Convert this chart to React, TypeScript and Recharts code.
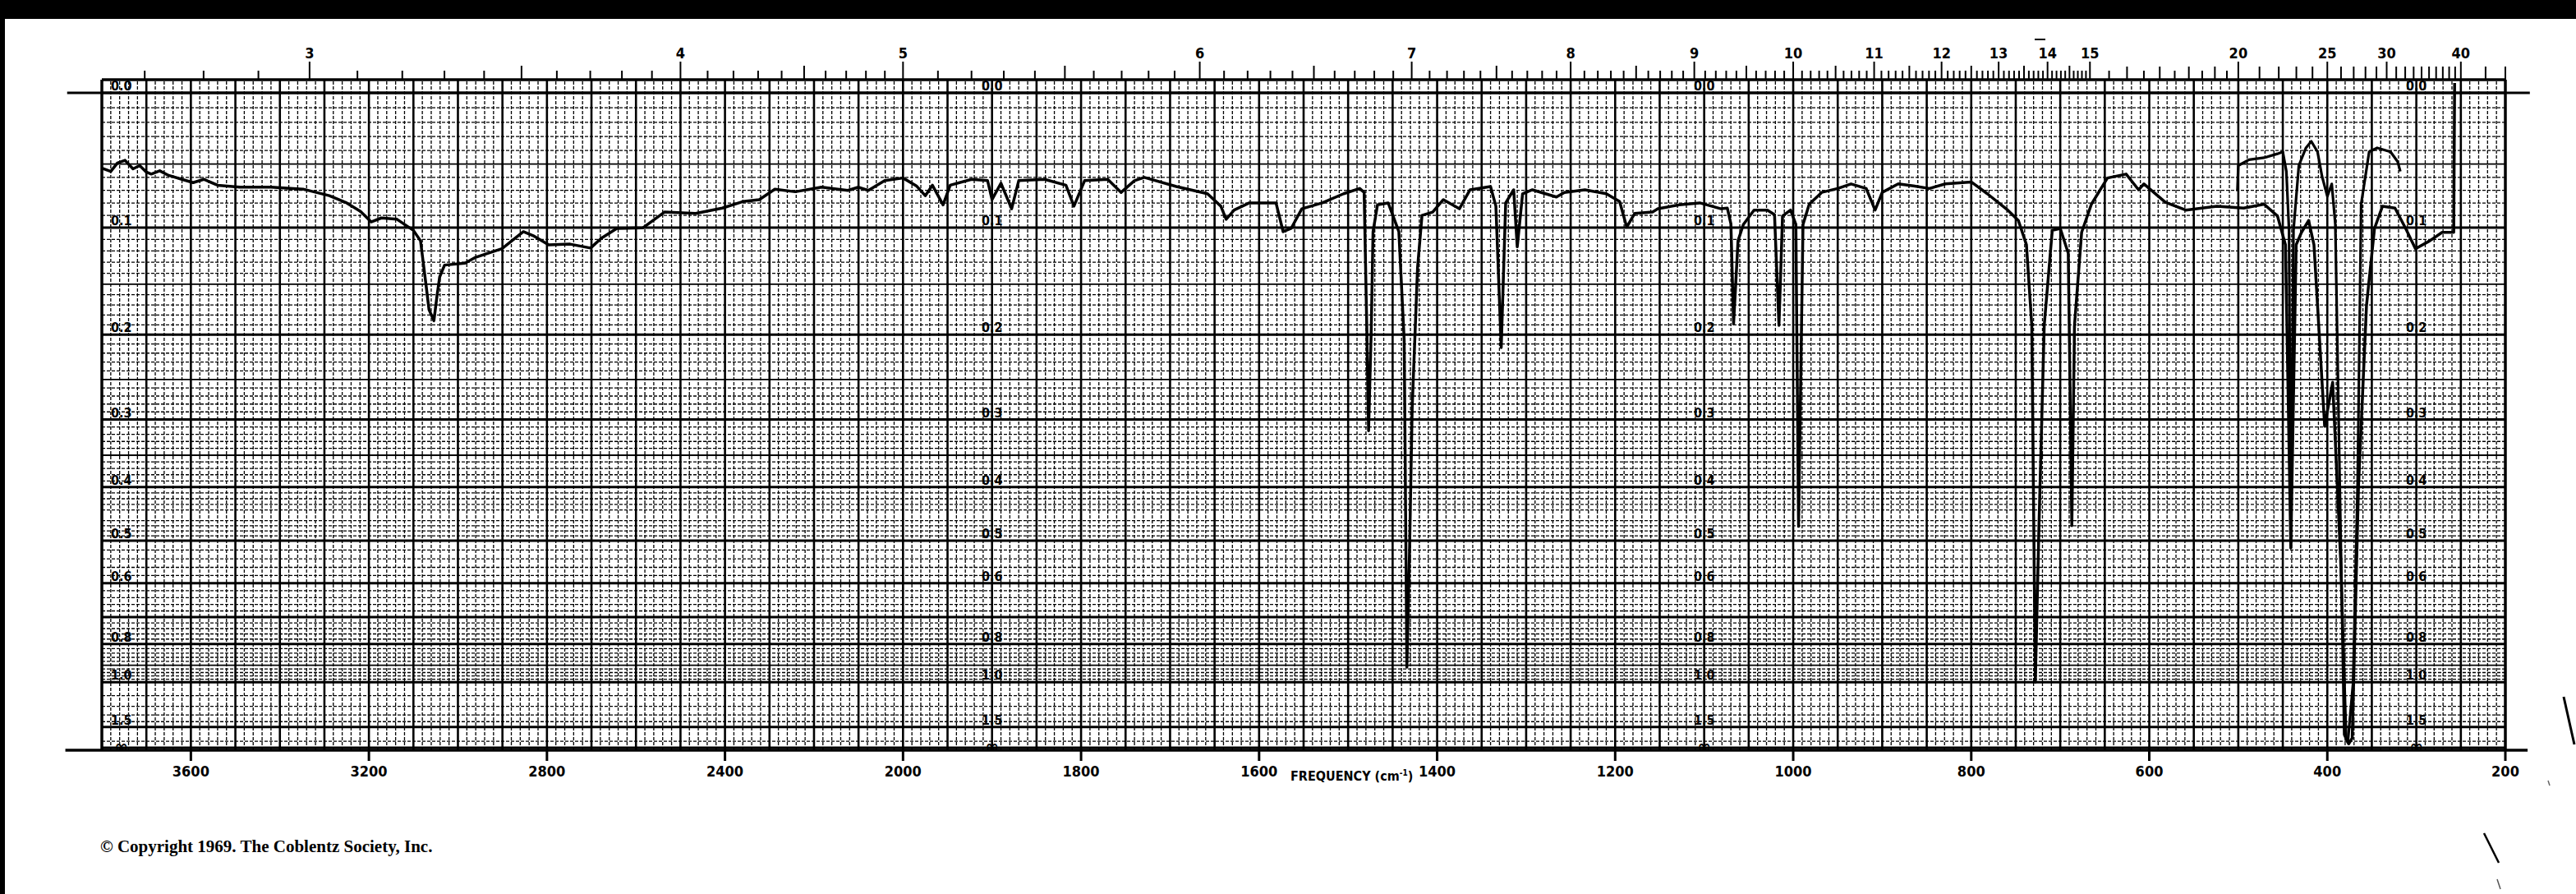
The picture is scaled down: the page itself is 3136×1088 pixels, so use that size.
import React from 'react';
import { LineChart, Line, XAxis, YAxis, ReferenceLine } from 'recharts';

// main recorded trace: wavenumber (cm-1) and transmittance (fraction)
const wavenumbers = [
  3800, 3780, 3765, 3748, 3730, 3715, 3700, 3689, 3670, 3650, 3620, 3595, 3571, 3540, 3490, 3420, 3348, 3289,
  3250, 3219, 3195, 3172, 3137, 3100, 3084, 3071, 3065, 3054, 3047, 3041, 3030, 2984, 2960, 2901, 2853, 2831,
  2796, 2748, 2702, 2678, 2643, 2584, 2536, 2466, 2406, 2360, 2323, 2288, 2242, 2183, 2124, 2100, 2078, 2041,
  2000, 1985, 1975, 1967, 1955, 1947, 1923, 1905, 1900, 1890, 1878, 1870, 1841, 1817, 1808, 1796, 1770, 1755,
  1740, 1729, 1693, 1658, 1643, 1637, 1628, 1611, 1581, 1573, 1564, 1552, 1529, 1505, 1487, 1482, 1479, 1477,
  1474, 1472, 1467, 1455, 1443, 1437, 1434, 1431, 1428, 1422, 1417, 1405, 1393, 1375, 1363, 1340, 1334, 1328,
  1323, 1314, 1310, 1304, 1293, 1266, 1257, 1234, 1210, 1195, 1187, 1178, 1158, 1152, 1128, 1105, 1081, 1074,
  1070, 1067, 1062, 1056, 1044, 1029, 1021, 1016, 1012, 1003, 997, 994, 989, 982, 968, 950, 935, 918,
  908, 900, 882, 865, 847, 829, 800, 782, 759, 747, 738, 732, 728, 724, 718, 709, 700, 691,
  687, 684, 676, 665, 647, 626, 612, 606, 582, 559, 524, 494, 471, 456, 447, 441, 435, 429,
  421, 415, 403, 394, 385, 379, 376, 372, 365, 356, 347, 338, 324, 312, 301, 285, 271, 258, 257,
];
const transmittance = [
  0.885, 0.88, 0.893, 0.897, 0.884, 0.889, 0.879, 0.876, 0.881, 0.874, 0.868, 0.863, 0.868, 0.859, 0.856, 0.856, 0.853, 0.843,
  0.832, 0.819, 0.803, 0.809, 0.807, 0.79, 0.774, 0.703, 0.669, 0.652, 0.69, 0.719, 0.737, 0.74, 0.749, 0.762, 0.788, 0.782,
  0.768, 0.769, 0.763, 0.778, 0.793, 0.794, 0.818, 0.816, 0.824, 0.834, 0.837, 0.853, 0.849, 0.856, 0.851, 0.856, 0.851, 0.866,
  0.87, 0.858, 0.843, 0.859, 0.829, 0.859, 0.868, 0.866, 0.837, 0.862, 0.823, 0.866, 0.868, 0.859, 0.827, 0.866, 0.868, 0.848,
  0.866, 0.871, 0.857, 0.846, 0.827, 0.807, 0.821, 0.832, 0.832, 0.788, 0.793, 0.823, 0.832, 0.846, 0.854, 0.848, 0.64, 0.484,
  0.64, 0.788, 0.829, 0.832, 0.788, 0.622, 0.123, 0.3, 0.52, 0.733, 0.813, 0.818, 0.837, 0.823, 0.852, 0.857, 0.827, 0.611,
  0.832, 0.852, 0.765, 0.846, 0.852, 0.841, 0.848, 0.852, 0.846, 0.834, 0.795, 0.816, 0.818, 0.823, 0.829, 0.832, 0.823, 0.824,
  0.8, 0.647, 0.774, 0.799, 0.821, 0.821, 0.814, 0.645, 0.812, 0.821, 0.799, 0.338, 0.799, 0.83, 0.848, 0.854, 0.861, 0.854,
  0.821, 0.848, 0.861, 0.858, 0.854, 0.861, 0.864, 0.846, 0.821, 0.805, 0.768, 0.645, 0.1, 0.335, 0.645, 0.79, 0.793, 0.755,
  0.339, 0.645, 0.787, 0.83, 0.87, 0.876, 0.852, 0.861, 0.833, 0.821, 0.827, 0.824, 0.83, 0.812, 0.768, 0.305, 0.768, 0.787,
  0.805, 0.768, 0.491, 0.558, 0.286, 0.015, 0.006, 0.015, 0.398, 0.675, 0.793, 0.827, 0.824, 0.793, 0.762, 0.774, 0.787, 0.787, 1.015,
];

// second (upper) trace recorded over the far-IR end
const overlayWavenumbers = [
  501, 500, 488, 471, 456, 450, 446, 443, 441, 438, 432, 424, 418, 411, 406, 400, 395, 391, 386, 381, 377,
  371, 366, 362, 353, 344, 329, 321, 318,
];
const overlayTransmittance = [
  0.85, 0.889, 0.898, 0.901, 0.907, 0.91, 0.88, 0.79, 0.31, 0.79, 0.889, 0.916, 0.926, 0.91, 0.873, 0.842, 0.861, 0.799, 0.4, 0.02, 0.008,
  0.1, 0.4, 0.83, 0.91, 0.916, 0.91, 0.895, 0.88,
];

const frequencyTicks = [3600, 3200, 2800, 2400, 2000, 1800, 1600, 1400, 1200, 1000, 800, 600, 400, 200];
const micronLabels = [3, 4, 5, 6, 7, 8, 9, 10, 11, 12, 13, 14, 15, 20, 25, 30, 40];
const absorbanceLabels = [0, 0.1, 0.2, 0.3, 0.4, 0.5, 0.6, 0.8, 1.0, 1.5];
const majorAbsorbance = [0, 0.1, 0.2, 0.3, 0.4, 0.5, 0.6, 0.7, 0.8, 1.0, 1.5];
const mediumAbsorbance = [0.05, 0.15, 0.25, 0.35, 0.9];

const W = 3136;
const H = 1088;
const PLOT_LEFT = 124;
const PLOT_RIGHT = 3050;
const PLOT_TOP = 97;
const PLOT_BOTTOM = 913;
const U_MAX = 5400;
const T_MIN = -0.00376;
const T_MAX = 1.0201;
const LABEL_U = [44, 2000, 3600, 5200];
const NUM_FONT = "'DejaVu Sans Condensed', 'DejaVu Sans', sans-serif";

// chart paper: 3800-2000 at half the scale of 2000-200
const toU = (w: number) => (w >= 2000 ? 3800 - w : 1800 + 2 * (2000 - w));
const fromU = (u: number) => (u <= 1800 ? 3800 - u : 2000 - (u - 1800) / 2);
const absToT = (a: number) => Math.pow(10, -a);

const mainData = wavenumbers.map((w, i) => ({ u: toU(w), t: transmittance[i] }));
const overlayData = overlayWavenumbers.map((w, i) => ({ u: toU(w), t: overlayTransmittance[i] }));

const micronTicks: { u: number; m: number; len: number }[] = [];
{
  const ms: number[] = [];
  for (let k = 27; k <= 150; k++) ms.push(k / 10);
  for (let k = 31; k <= 40; k++) ms.push(k / 2);
  for (let k = 21; k <= 40; k++) ms.push(k);
  ms.push(45, 50);
  ms.forEach((m) => {
    const labeled = micronLabels.includes(m);
    const len = labeled ? 22 : Number.isInteger(m) ? 16 : m <= 15 && Number.isInteger(m * 2) ? 17 : 11;
    micronTicks.push({ u: Math.round(toU(10000 / m) * 1000) / 1000, m, len });
  });
}

const minorAbsorbance: number[] = [];
for (let k = 1; k < 50; k++) if (k % 5 !== 0) minorAbsorbance.push(k / 100);
for (let k = 26; k < 50; k++) if (k !== 35 && k !== 40 && k !== 45) minorAbsorbance.push(k / 50);
minorAbsorbance.push(1.1, 1.2, 1.3, 1.4, 2.0);

const verticalMajor: number[] = [];
const verticalMinor: number[] = [];
for (let u = 0; u <= U_MAX; u += 20) (u % 100 === 0 ? verticalMajor : verticalMinor).push(u);

const AbsTick = (props: any) => {
  const { y, payload } = props;
  const t = payload.value;
  const label = t <= 0 ? '∞' : (Math.round(-Math.log10(t) * 10) / 10).toFixed(1);
  const w = PLOT_RIGHT - PLOT_LEFT;
  return (
    <g>
      {LABEL_U.map((u) => (
        <text
          key={u}
          x={PLOT_LEFT + (u / U_MAX) * w}
          y={t <= 0 ? y + 6 : y - 3}
          textAnchor="middle"
          fontFamily={NUM_FONT}
          fontWeight={700}
          fontSize={t <= 0 ? 22 : 16}
          fill="#000"
        >
          {label}
        </text>
      ))}
    </g>
  );
};

const BottomTick = (props: any) => {
  const { x, y, payload } = props;
  return (
    <g>
      <line x1={x} y1={y} x2={x} y2={y + 13} stroke="#000" strokeWidth={3} />
      <text x={x} y={y + 32} textAnchor="middle" fontFamily={NUM_FONT} fontWeight={700} fontSize={18} fill="#000">
        {Math.round(fromU(payload.value))}
      </text>
    </g>
  );
};

const TopTick = (props: any) => {
  const { x, y, payload } = props;
  let tk = micronTicks[0];
  let best = Infinity;
  micronTicks.forEach((c) => {
    const d = Math.abs(c.u - payload.value);
    if (d < best) {
      best = d;
      tk = c;
    }
  });
  const labeled = micronLabels.includes(tk.m);
  return (
    <g>
      <line x1={x} y1={y} x2={x} y2={y - tk.len} stroke="#000" strokeWidth={2} />
      {labeled && (
        <text x={x} y={y - 26} textAnchor="middle" fontFamily={NUM_FONT} fontWeight={700} fontSize={18} fill="#000">
          {tk.m}
        </text>
      )}
    </g>
  );
};

export default function App() {
  return (
    <div style={{ position: 'absolute', left: 0, top: 0, width: W, height: H, background: '#fff', overflow: 'hidden' }}>
      <div style={{ position: 'absolute', left: 0, top: 0, width: W, height: 23, background: '#000' }} />
      <div style={{ position: 'absolute', left: 0, top: 0, width: 6, height: H, background: '#000' }} />
      <LineChart
        width={W}
        height={H}
        margin={{ top: PLOT_TOP - 1, left: PLOT_LEFT - 1, right: W - PLOT_RIGHT, bottom: H - PLOT_BOTTOM - 1 }}
        style={{ position: 'absolute', left: 0, top: 0 }}
      >
        <XAxis
          xAxisId={0}
          type="number"
          dataKey="u"
          domain={[0, U_MAX]}
          allowDataOverflow
          ticks={frequencyTicks.map(toU)}
          interval={0}
          tick={BottomTick}
          tickLine={false}
          axisLine={false}
          tickSize={0}
          tickMargin={0}
          height={1}
        />
        <XAxis
          xAxisId="top"
          orientation="top"
          type="number"
          dataKey="u"
          domain={[0, U_MAX]}
          allowDataOverflow
          ticks={micronTicks.map((tk) => tk.u)}
          interval={0}
          tick={TopTick}
          tickLine={false}
          axisLine={false}
          tickSize={0}
          tickMargin={0}
          height={1}
        />
        <YAxis
          type="number"
          domain={[T_MIN, T_MAX]}
          allowDataOverflow
          ticks={[...absorbanceLabels.map(absToT), 0]}
          interval={0}
          tick={AbsTick}
          tickLine={false}
          axisLine={false}
          width={1}
        />
        {verticalMinor.map((u) => (
          <ReferenceLine key={'vm' + u} x={u} stroke="#000" strokeWidth={1.3} strokeDasharray="4 2" />
        ))}
        {minorAbsorbance.map((a) => (
          <ReferenceLine key={'hm' + a} y={absToT(a)} stroke="#000" strokeWidth={1.3} strokeDasharray="4 2" />
        ))}
        {verticalMajor.map((u) => (
          <ReferenceLine key={'vM' + u} x={u} stroke="#000" strokeWidth={u === 0 || u === U_MAX ? 3.5 : 2.6} />
        ))}
        {mediumAbsorbance.map((a) => (
          <ReferenceLine key={'hd' + a} y={absToT(a)} stroke="#000" strokeWidth={1.8} />
        ))}
        {majorAbsorbance.map((a) => (
          <ReferenceLine key={'hM' + a} y={absToT(a)} stroke="#000" strokeWidth={3} />
        ))}
        <ReferenceLine y={0} stroke="#000" strokeWidth={3} />
        <ReferenceLine y={T_MAX} stroke="#000" strokeWidth={3.5} />
        <ReferenceLine
          segment={[{ x: -78, y: 1 }, { x: 5455, y: 1 }]}
          ifOverflow="visible"
          stroke="#000"
          strokeWidth={3}
        />
        <ReferenceLine
          segment={[{ x: -82, y: T_MIN }, { x: 5450, y: T_MIN }]}
          ifOverflow="visible"
          stroke="#000"
          strokeWidth={3.5}
        />
        <Line
          xAxisId="top"
          data={overlayData}
          dataKey="t"
          type="linear"
          stroke="#000"
          strokeWidth={3.2}
          strokeLinejoin="round"
          dot={false}
          isAnimationActive={false}
        />
        <Line
          data={mainData}
          dataKey="t"
          type="linear"
          stroke="#000"
          strokeWidth={3.5}
          strokeLinejoin="round"
          dot={false}
          isAnimationActive={false}
        />
      </LineChart>
      <div
        style={{
          position: 'absolute',
          left: 1571,
          top: 932,
          fontFamily: NUM_FONT,
          fontWeight: 700,
          fontSize: 16,
          lineHeight: '18px',
          whiteSpace: 'nowrap',
        }}
      >
        FREQUENCY (cm<sup style={{ fontSize: 10 }}>-1</sup>)
      </div>
      <div
        style={{
          position: 'absolute',
          left: 122,
          top: 1017,
          fontFamily: "'Liberation Serif', serif",
          fontWeight: 700,
          fontSize: 21,
          lineHeight: '26px',
          whiteSpace: 'nowrap',
        }}
      >
        © Copyright 1969. The Coblentz Society, Inc.
      </div>
      <svg width={W} height={H} style={{ position: 'absolute', left: 0, top: 0, pointerEvents: 'none' }}>
        <line x1={2477} y1={48} x2={2490} y2={48} stroke="#000" strokeWidth={2} />
        <line x1={3121} y1={848} x2={3134} y2={906} stroke="#000" strokeWidth={3} />
        <line x1={3024} y1={1014} x2={3042} y2={1050} stroke="#000" strokeWidth={2.5} />
        <line x1={3040} y1={1070} x2={3044} y2={1082} stroke="#555" strokeWidth={1.5} />
        <line x1={3102} y1={950} x2={3104} y2={956} stroke="#666" strokeWidth={1.5} />
      </svg>
    </div>
  );
}
